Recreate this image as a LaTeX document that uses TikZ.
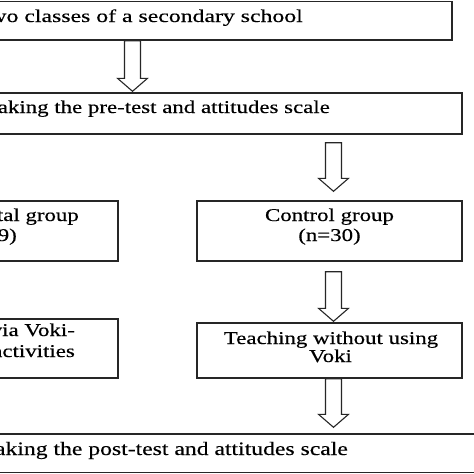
\documentclass[tikz,border=0pt]{standalone}
\usepackage{fontspec}
\setmainfont{Liberation Serif}[FakeBold=0.3]
\usetikzlibrary{calc}
\definecolor{boxc}{HTML}{262626}
\newcommand\wide[1]{\scalebox{1.27}[1]{#1}}
\newcommand\wider[1]{\scalebox{1.32}[1]{#1}}
\newcommand\narrow[1]{\scalebox{1.245}[1]{#1}}
\newcommand\blockarrow[5]{%
  \draw[arr] let \p1=($(#1 |- #2.south)+(0,-#4)$), \p2=($(#1 |- #3.north)+(0,#5)$) in
    (\x1-8pt,\y1) -- (\x1-8pt,\y2+13pt) -- (\x1-15pt,\y2+13pt) -- (\x1,\y2)
    -- (\x1+15pt,\y2+13pt) -- (\x1+8pt,\y2+13pt) -- (\x1+8pt,\y1) -- cycle;}
\begin{document}
\begin{tikzpicture}[x=1pt,y=-1pt,
  box/.style={draw=boxc, line width=1.4pt, rectangle, inner sep=0pt},
  txt/.style={inner sep=0pt, font=\fontsize{18}{20}\selectfont, text=black},
  bigtxt/.style={inner sep=0pt, font=\fontsize{19}{21}\selectfont, text=black},
  arr/.style={draw=boxc, line width=1.1pt, fill=white, line join=miter}]
\path[use as bounding box, clip] (0,0) rectangle (474,474);
\fill[white] (0,0) rectangle (474,474);
% boxes
\node[box, minimum width=532pt, minimum height=38.5pt] (b1) at (186,20.75) {};
\node[box, minimum width=542pt, minimum height=41pt] (b2) at (191,113.5) {};
\node[box, minimum width=261pt, minimum height=60pt] (exp) at (-12.5,231) {};
\node[box, minimum width=265pt, minimum height=60pt] (ctrl) at (329.5,231) {};
\node[box, minimum width=261pt, minimum height=59pt] (expteach) at (-12.5,348.5) {};
\node[box, minimum width=265pt, minimum height=55pt] (ctrlteach) at (329.5,350.5) {};
\node[box, minimum width=640pt, minimum height=38.5pt] (b6) at (240,453.25) {};
% texts
\node[txt, anchor=base east] (t1) at (303,22) {\wider{Two classes of a secondary school}};
\node[txt, anchor=base east] (t2) at (330,113) {\wide{Taking the pre-test and attitudes scale}};
\node[txt, anchor=base] (t3a) at (329.5,221) {\wide{Control group}};
\node[txt, anchor=base] (t3b) at (329.5,241) {\wide{(n=30)}};
\node[txt, anchor=base east] (t4a) at (79,221) {\wide{Experimental group}};
\node[txt, anchor=base east] (t4b) at (17,241) {\wide{(n=29)}};
\node[txt, anchor=base] (t5a) at (331,344) {\wide{Teaching without using}};
\node[txt, anchor=base] (t5b) at (330.5,362) {\wide{Voki}};
\node[txt, anchor=base east] (t6a) at (75,336) {\wide{Teaching via Voki-}};
\node[txt, anchor=base east] (t6b) at (75,357) {\wide{based activities}};
\node[bigtxt, anchor=base east] (t7) at (348,455) {\narrow{Taking the post-test and attitudes scale}};
% arrows
\coordinate (ax1) at (132.5,0);
\coordinate (ax2) at (333.5,0);
\blockarrow{ax1}{b1}{b2}{0pt}{1pt}
\blockarrow{ax2}{b2}{ctrl}{8pt}{9pt}
\blockarrow{ax2}{ctrl}{ctrlteach}{10pt}{1pt}
\blockarrow{ax2}{ctrlteach}{b6}{0pt}{6pt}
\end{tikzpicture}
\end{document}
